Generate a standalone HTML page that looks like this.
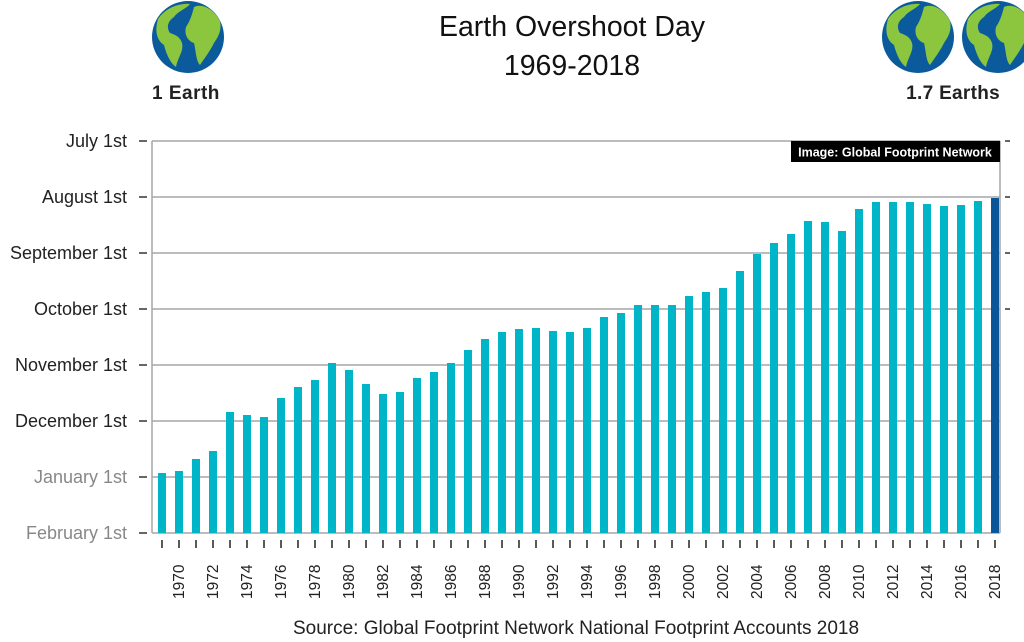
<!DOCTYPE html>
<html><head><meta charset="utf-8"><style>
html,body{margin:0;padding:0;background:#fff;}
svg{display:block;font-family:"Liberation Sans",sans-serif;}
</style></head><body>
<svg width="1024" height="642" viewBox="0 0 1024 642" xmlns="http://www.w3.org/2000/svg">
<defs>
<g id="globe">
<circle cx="0" cy="0" r="36" fill="#0b5a9c"/>
<path d="M-30,-18 C-22,-30 -8,-34 2,-33 C-2,-28 -10,-26 -14,-20 C-20,-16 -22,-10 -18,-4 C-12,-2 -8,0 -6,6 C-4,14 -10,20 -12,30 C-18,26 -22,16 -24,8 C-30,4 -34,-4 -30,-18Z" fill="#8cc63f"/>
<path d="M6,-30 C14,-34 26,-28 32,-16 C34,-6 30,0 26,6 C22,14 16,22 12,28 C8,24 8,14 6,6 C0,4 -4,-2 -2,-10 C2,-16 4,-22 6,-30Z" fill="#8cc63f"/>
</g>
</defs>
<use href="#globe" x="188" y="37"/>
<use href="#globe" x="918" y="37"/>
<use href="#globe" x="998" y="37"/>
<text x="152" y="99" font-size="19" font-weight="bold" fill="#222" letter-spacing="0.5">1 Earth</text>
<text x="1000" y="99" font-size="19" font-weight="bold" fill="#222" text-anchor="end" letter-spacing="0.3">1.7 Earths</text>
<text x="572" y="36" font-size="28.5" text-anchor="middle" fill="#111">Earth Overshoot Day</text>
<text x="572" y="75" font-size="28.5" text-anchor="middle" fill="#111">1969-2018</text>
<g stroke="#a6a6a8" stroke-width="1.5">
<line x1="152" y1="141" x2="1000" y2="141"/>
<line x1="152" y1="197" x2="1000" y2="197"/>
<line x1="152" y1="253" x2="1000" y2="253"/>
<line x1="152" y1="309" x2="1000" y2="309"/>
<line x1="152" y1="365" x2="1000" y2="365"/>
<line x1="152" y1="421" x2="1000" y2="421"/>
<line x1="152" y1="477" x2="1000" y2="477"/>
<line x1="152" y1="533" x2="1000" y2="533"/>
<line x1="152" y1="141" x2="152" y2="533"/>
<line x1="1000" y1="141" x2="1000" y2="533"/>
</g>
<g stroke="#333" stroke-width="1.5">
<line x1="139" y1="141" x2="147" y2="141"/><line x1="139" y1="197" x2="147" y2="197"/>
<line x1="139" y1="253" x2="147" y2="253"/><line x1="139" y1="309" x2="147" y2="309"/>
<line x1="139" y1="365" x2="147" y2="365"/><line x1="139" y1="421" x2="147" y2="421"/>
<line x1="139" y1="477" x2="147" y2="477"/><line x1="139" y1="533" x2="147" y2="533"/>
<line x1="1005" y1="141" x2="1010" y2="141"/><line x1="1005" y1="197" x2="1010" y2="197"/>
<line x1="1005" y1="253" x2="1010" y2="253"/><line x1="1005" y1="309" x2="1010" y2="309"/>
</g>
<g font-size="18" text-anchor="end" fill="#222">
<text x="127" y="147">July 1st</text>
<text x="127" y="203">August 1st</text>
<text x="127" y="259">September 1st</text>
<text x="127" y="315">October 1st</text>
<text x="127" y="371">November 1st</text>
<text x="127" y="427">December 1st</text>
<text x="127" y="483" fill="#888">January 1st</text>
<text x="127" y="539" fill="#888">February 1st</text>
</g>
<g fill="#00b5c8">
<rect x="158" y="473" width="8" height="60"/><rect x="175" y="471" width="8" height="62"/>
<rect x="192" y="459" width="8" height="74"/><rect x="209" y="451" width="8" height="82"/>
<rect x="226" y="412" width="8" height="121"/><rect x="243" y="415" width="8" height="118"/>
<rect x="260" y="417" width="8" height="116"/><rect x="277" y="398" width="8" height="135"/>
<rect x="294" y="387" width="8" height="146"/><rect x="311" y="380" width="8" height="153"/>
<rect x="328" y="363" width="8" height="170"/><rect x="345" y="370" width="8" height="163"/>
<rect x="362" y="384" width="8" height="149"/><rect x="379" y="394" width="8" height="139"/>
<rect x="396" y="392" width="8" height="141"/><rect x="413" y="378" width="8" height="155"/>
<rect x="430" y="372" width="8" height="161"/><rect x="447" y="363" width="8" height="170"/>
<rect x="464" y="350" width="8" height="183"/><rect x="481" y="339" width="8" height="194"/>
<rect x="498" y="332" width="8" height="201"/><rect x="515" y="329" width="8" height="204"/>
<rect x="532" y="328" width="8" height="205"/><rect x="549" y="331" width="8" height="202"/>
<rect x="566" y="332" width="8" height="201"/><rect x="583" y="328" width="8" height="205"/>
<rect x="600" y="317" width="8" height="216"/><rect x="617" y="313" width="8" height="220"/>
<rect x="634" y="305" width="8" height="228"/><rect x="651" y="305" width="8" height="228"/>
<rect x="668" y="305" width="8" height="228"/><rect x="685" y="296" width="8" height="237"/>
<rect x="702" y="292" width="8" height="241"/><rect x="719" y="288" width="8" height="245"/>
<rect x="736" y="271" width="8" height="262"/><rect x="753" y="254" width="8" height="279"/>
<rect x="770" y="243" width="8" height="290"/><rect x="787" y="234" width="8" height="299"/>
<rect x="804" y="221" width="8" height="312"/><rect x="821" y="222" width="8" height="311"/>
<rect x="838" y="231" width="8" height="302"/><rect x="855" y="209" width="8" height="324"/>
<rect x="872" y="202" width="8" height="331"/><rect x="889" y="202" width="8" height="331"/>
<rect x="906" y="202" width="8" height="331"/><rect x="923" y="204" width="8" height="329"/>
<rect x="940" y="206" width="8" height="327"/><rect x="957" y="205" width="8" height="328"/>
<rect x="974" y="201" width="8" height="332"/>
<rect x="991" y="198" width="8" height="335" fill="#0a5699"/>
</g>
<rect x="791" y="141" width="209" height="21" fill="#000"/>
<text x="895" y="156.5" font-size="12.5" font-weight="bold" fill="#fff" text-anchor="middle">Image: Global Footprint Network</text>
<g stroke="#222" stroke-width="1.5">
<line x1="162" y1="540" x2="162" y2="548"/><line x1="179" y1="540" x2="179" y2="548"/><line x1="196" y1="540" x2="196" y2="548"/><line x1="213" y1="540" x2="213" y2="548"/><line x1="230" y1="540" x2="230" y2="548"/><line x1="247" y1="540" x2="247" y2="548"/><line x1="264" y1="540" x2="264" y2="548"/><line x1="281" y1="540" x2="281" y2="548"/><line x1="298" y1="540" x2="298" y2="548"/><line x1="315" y1="540" x2="315" y2="548"/>
<line x1="332" y1="540" x2="332" y2="548"/><line x1="349" y1="540" x2="349" y2="548"/><line x1="366" y1="540" x2="366" y2="548"/><line x1="383" y1="540" x2="383" y2="548"/><line x1="400" y1="540" x2="400" y2="548"/><line x1="417" y1="540" x2="417" y2="548"/><line x1="434" y1="540" x2="434" y2="548"/><line x1="451" y1="540" x2="451" y2="548"/><line x1="468" y1="540" x2="468" y2="548"/><line x1="485" y1="540" x2="485" y2="548"/>
<line x1="502" y1="540" x2="502" y2="548"/><line x1="519" y1="540" x2="519" y2="548"/><line x1="536" y1="540" x2="536" y2="548"/><line x1="553" y1="540" x2="553" y2="548"/><line x1="570" y1="540" x2="570" y2="548"/><line x1="587" y1="540" x2="587" y2="548"/><line x1="604" y1="540" x2="604" y2="548"/><line x1="621" y1="540" x2="621" y2="548"/><line x1="638" y1="540" x2="638" y2="548"/><line x1="655" y1="540" x2="655" y2="548"/>
<line x1="672" y1="540" x2="672" y2="548"/><line x1="689" y1="540" x2="689" y2="548"/><line x1="706" y1="540" x2="706" y2="548"/><line x1="723" y1="540" x2="723" y2="548"/><line x1="740" y1="540" x2="740" y2="548"/><line x1="757" y1="540" x2="757" y2="548"/><line x1="774" y1="540" x2="774" y2="548"/><line x1="791" y1="540" x2="791" y2="548"/><line x1="808" y1="540" x2="808" y2="548"/><line x1="825" y1="540" x2="825" y2="548"/>
<line x1="842" y1="540" x2="842" y2="548"/><line x1="859" y1="540" x2="859" y2="548"/><line x1="876" y1="540" x2="876" y2="548"/><line x1="893" y1="540" x2="893" y2="548"/><line x1="910" y1="540" x2="910" y2="548"/><line x1="927" y1="540" x2="927" y2="548"/><line x1="944" y1="540" x2="944" y2="548"/><line x1="961" y1="540" x2="961" y2="548"/><line x1="978" y1="540" x2="978" y2="548"/><line x1="995" y1="540" x2="995" y2="548"/>
</g>
<g font-size="15.5" fill="#222">
<text transform="translate(184,599) rotate(-90)">1970</text>
<text transform="translate(218,599) rotate(-90)">1972</text>
<text transform="translate(252,599) rotate(-90)">1974</text>
<text transform="translate(286,599) rotate(-90)">1976</text>
<text transform="translate(320,599) rotate(-90)">1978</text>
<text transform="translate(354,599) rotate(-90)">1980</text>
<text transform="translate(388,599) rotate(-90)">1982</text>
<text transform="translate(422,599) rotate(-90)">1984</text>
<text transform="translate(456,599) rotate(-90)">1986</text>
<text transform="translate(490,599) rotate(-90)">1988</text>
<text transform="translate(524,599) rotate(-90)">1990</text>
<text transform="translate(558,599) rotate(-90)">1992</text>
<text transform="translate(592,599) rotate(-90)">1994</text>
<text transform="translate(626,599) rotate(-90)">1996</text>
<text transform="translate(660,599) rotate(-90)">1998</text>
<text transform="translate(694,599) rotate(-90)">2000</text>
<text transform="translate(728,599) rotate(-90)">2002</text>
<text transform="translate(762,599) rotate(-90)">2004</text>
<text transform="translate(796,599) rotate(-90)">2006</text>
<text transform="translate(830,599) rotate(-90)">2008</text>
<text transform="translate(864,599) rotate(-90)">2010</text>
<text transform="translate(898,599) rotate(-90)">2012</text>
<text transform="translate(932,599) rotate(-90)">2014</text>
<text transform="translate(966,599) rotate(-90)">2016</text>
<text transform="translate(1000,599) rotate(-90)">2018</text>
</g>
<text x="576" y="634" font-size="19" text-anchor="middle" fill="#222">Source: Global Footprint Network National Footprint Accounts 2018</text>
</svg>
</body></html>
